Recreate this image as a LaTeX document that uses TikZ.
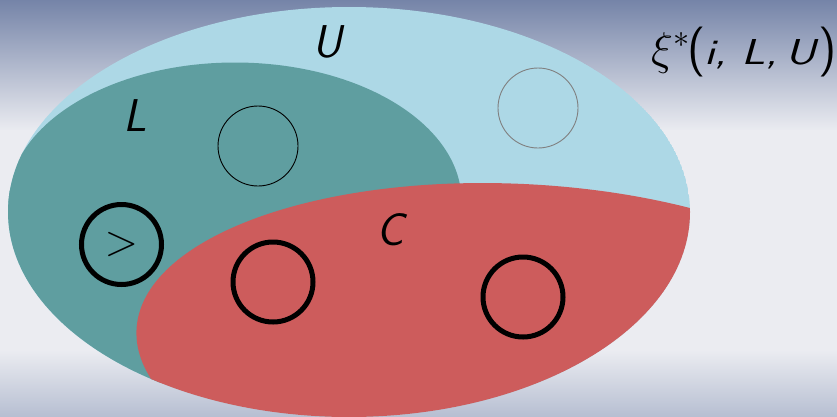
\RequirePackage{fix-cm}
\documentclass[tikz,border=0pt]{standalone}
\usepackage{fontspec}
\definecolor{bgtop}{RGB}{117,132,168}
\definecolor{bgmid}{RGB}{235,236,241}
\definecolor{bgbot}{RGB}{183,191,210}
\definecolor{setU}{RGB}{173,216,230}
\definecolor{setL}{RGB}{95,158,160}
\definecolor{setC}{RGB}{205,92,92}
\begin{document}
\begin{tikzpicture}[x=1pt,y=-1pt,
  ring/.style={circle, draw, inner sep=0pt, minimum size=80pt},
  thickring/.style={ring, line width=5pt},
  thinring/.style={ring, line width=0.9pt},
  setlabel/.style={font=\fontsize{46}{50}\selectfont\sffamily\itshape, anchor=base, inner sep=0pt}]
\useasboundingbox (0,0) rectangle (837,416);
% background
\shade[top color=bgtop, bottom color=bgmid] (0,0) rectangle (837,131);
\fill[bgmid] (0,130) rectangle (837,351);
\shade[top color=bgmid, bottom color=bgbot] (0,350) rectangle (837,416);
% sets
\begin{scope}
  \clip (349,212) ellipse [x radius=341pt, y radius=205pt];
  \fill[setU] (349,212) ellipse [x radius=341pt, y radius=205pt];
  \fill[setL] (235,201) ellipse [x radius=226.5pt, y radius=138.5pt];
  \fill[setL] (0,190) rectangle (160,420);
  \fill[setC, rotate around={-2.94:(520,349)}] (520,349) ellipse [x radius=384pt, y radius=165pt];
\end{scope}
% elements
\node[thinring] (lin) at (258,146) {};
\node[thinring, draw=gray] (uin) at (538,108) {};
\node[thickring] (gt) at (121.5,244.5) {\fontsize{44}{44}\selectfont$>$};
\node[thickring] (c1) at (273,282) {};
\node[thickring] (c2) at (523,297) {};
% labels
\node[setlabel] (lu) at (327,57) {U};
\node[setlabel] (ll) at (135,131) {L};
\node[setlabel] (lc) at (390,245) {C};
\node[anchor=base west, inner sep=0pt, font=\fontsize{36}{40}\selectfont\sffamily] (xi) at (651,64)
  {\rlap{\fontsize{46}{46}\selectfont\scriptspace=0pt$\xi^{*}$}%
   \hspace{36pt}\rlap{\fontsize{50}{50}\selectfont(}%
   \hspace{17pt}\rlap{\scalebox{1.32}[1]{\itshape i,}}%
   \hspace{37pt}\rlap{\scalebox{1.32}[1]{\itshape L,}}%
   \hspace{44pt}\rlap{\scalebox{1.32}[1]{\itshape U}}%
   \hspace{33pt}{\fontsize{50}{50}\selectfont)}};
\end{tikzpicture}
\end{document}
